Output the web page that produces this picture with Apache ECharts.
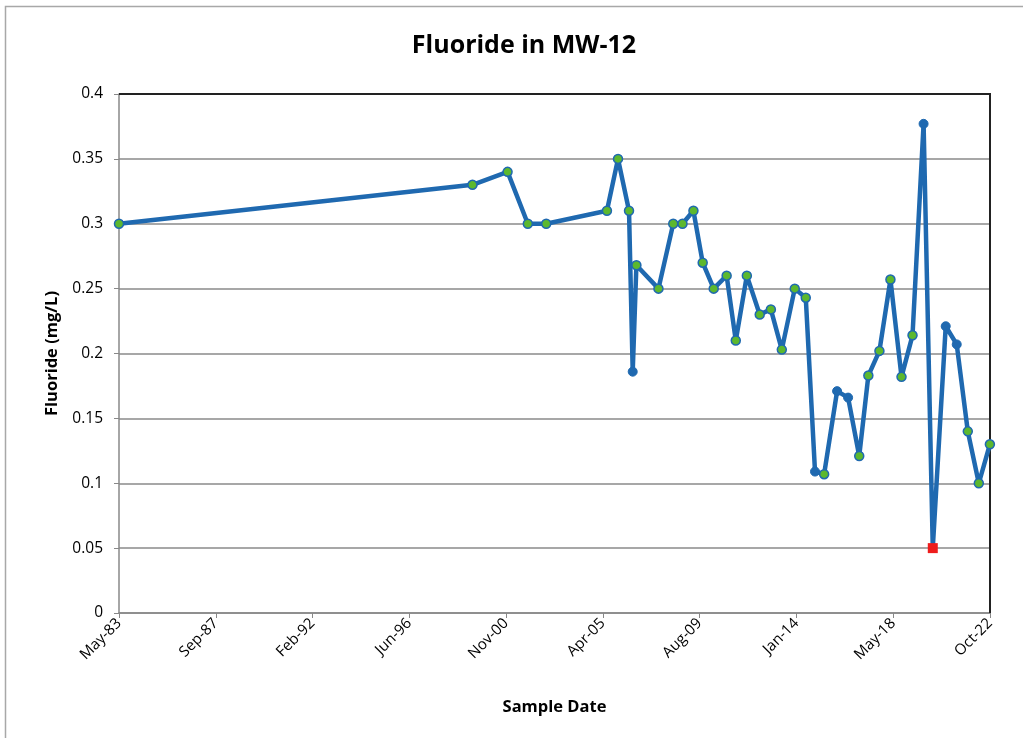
<!DOCTYPE html>
<html>
<head>
<meta charset="utf-8">
<script src="https://cdn.jsdelivr.net/npm/echarts@6/dist/echarts.min.js"></script>
<style>
  html, body { margin: 0; padding: 0; background: #fff; }
  #chart { width: 1023px; height: 738px; }
</style>
</head>
<body>
<div id="chart"></div>
<script>
// sample dates (year-month) and fluoride values
const sampleDates = [
  "1983-05", "1999-05", "2000-12", "2001-11", "2002-09", "2005-06", "2005-12",
  "2006-06", "2006-08", "2006-10", "2007-10", "2008-06", "2008-11", "2009-05",
  "2009-10", "2010-04", "2010-11", "2011-04", "2011-10", "2012-05", "2012-11",
  "2013-05", "2013-12", "2014-06", "2014-11", "2015-04", "2015-11", "2016-05",
  "2016-11", "2017-04", "2017-10", "2018-04", "2018-10", "2019-04", "2019-10",
  "2020-03", "2020-10", "2021-04", "2021-10", "2022-04", "2022-10"
];
const fluoride = [
  0.30, 0.33, 0.34, 0.30, 0.30, 0.31, 0.35,
  0.31, 0.186, 0.268, 0.25, 0.30, 0.30, 0.31,
  0.27, 0.25, 0.26, 0.21, 0.26, 0.23, 0.234,
  0.203, 0.25, 0.243, 0.109, 0.107, 0.171, 0.166,
  0.121, 0.183, 0.202, 0.257, 0.182, 0.214, 0.377,
  0.05, 0.221, 0.207, 0.14, 0.10, 0.13
];
// marker kind for each sample: g = green dot, b = blue dot, r = red square
const markerKind = [
  "g", "g", "g", "g", "g", "g", "g",
  "g", "b", "g", "g", "g", "g", "g",
  "g", "g", "g", "g", "g", "g", "g",
  "g", "g", "g", "b", "g", "b", "b",
  "g", "g", "g", "g", "g", "g", "b",
  "r", "b", "b", "g", "g", "g"
];
const xTickLabels = ["May-83", "Sep-87", "Feb-92", "Jun-96", "Nov-00",
  "Apr-05", "Aug-09", "Jan-14", "May-18", "Oct-22"];
const yTicks = [0, 0.05, 0.1, 0.15, 0.2, 0.25, 0.3, 0.35, 0.4];

// x axis is days since the first sample, major unit 1600 days
const startDay = Date.UTC(1983, 4, 15);
const DAY = 86400000;
const STEP = 1600;

function toDays(s) {
  const p = s.split("-");
  return (Date.UTC(+p[0], +p[1] - 1, 15) - startDay) / DAY;
}

const BLUE = "#1f69b0";
const GREEN = "#5cb82e";

const data = sampleDates.map(function (d, i) {
  const k = markerKind[i];
  const item = { value: [toDays(d), fluoride[i]] };
  if (k === "r") {
    item.symbol = "rect";
    item.symbolSize = 10;
    item.itemStyle = { color: "#ee1c1c", borderColor: "#ee1c1c", borderWidth: 0 };
  } else if (k === "b") {
    item.itemStyle = { color: BLUE, borderColor: BLUE, borderWidth: 1 };
  }
  return item;
});

var chartDom = document.getElementById("chart");
var myChart = echarts.init(chartDom);
var option = {
  animation: false,
  backgroundColor: "#fff",
  title: {
    text: "Fluoride in MW-12",
    left: 519,
    top: 28,
    textAlign: "center",
    textStyle: { fontFamily: "Open Sans", fontWeight: "bold", fontSize: 25, color: "#000" }
  },
  graphic: [{
    // chart area frame: only the top and left edges show in the scan
    type: "polyline",
    shape: { points: [[5.5, 740], [5.5, 6.5], [1023, 6.5]] },
    style: { fill: "none", stroke: "#a8a8a8", lineWidth: 1.5 },
    silent: true
  }, {
    // dark top and right edges of the plot area
    type: "polyline",
    shape: { points: [[119, 94], [990, 94], [990, 613]] },
    style: { fill: "none", stroke: "#222", lineWidth: 2 },
    silent: true,
    z: 1
  }],
  grid: {
    left: 119, right: 33, top: 94, bottom: 125,
    show: false
  },
  xAxis: {
    type: "value",
    min: 0,
    max: STEP * (xTickLabels.length - 1),
    interval: STEP,
    name: "Sample Date",
    nameLocation: "middle",
    nameGap: 86,
    nameTextStyle: { fontFamily: "Open Sans", fontWeight: "bold", fontSize: 16.5, color: "#000" },
    axisLine: { show: true, lineStyle: { color: "#888", width: 1.5 } },
    axisTick: { show: true, inside: false, length: 5, lineStyle: { color: "#888" } },
    splitLine: { show: false },
    axisLabel: {
      rotate: 45,
      margin: 8,
      fontFamily: "Open Sans",
      fontSize: 15,
      color: "#000",
      formatter: function (v) { return xTickLabels[Math.round(v / STEP)] || ""; }
    }
  },
  yAxis: {
    type: "value",
    min: yTicks[0],
    max: yTicks[yTicks.length - 1],
    interval: 0.05,
    name: "Fluoride (mg/L)",
    nameLocation: "middle",
    nameRotate: 90,
    nameGap: 58,
    nameTextStyle: { fontFamily: "Open Sans", fontWeight: "bold", fontSize: 16.5, color: "#000" },
    axisLine: { show: true, lineStyle: { color: "#888", width: 1.5 } },
    axisTick: { show: true, inside: false, length: 5, lineStyle: { color: "#888" } },
    splitLine: { show: true, lineStyle: { color: "#8a8a8a", width: 1.5 } },
    axisLabel: {
      margin: 16,
      fontFamily: "Open Sans",
      fontSize: 15.5,
      color: "#000",
      formatter: function (v) { return String(+v.toFixed(2)); }
    }
  },
  series: [{
    type: "line",
    data: data,
    symbol: "circle",
    symbolSize: 9,
    showAllSymbol: true,
    lineStyle: { color: BLUE, width: 4.5 },
    itemStyle: { color: GREEN, borderColor: BLUE, borderWidth: 1.5 },
    z: 3
  }]
};
option && myChart.setOption(option, true);
</script>
</body>
</html>
